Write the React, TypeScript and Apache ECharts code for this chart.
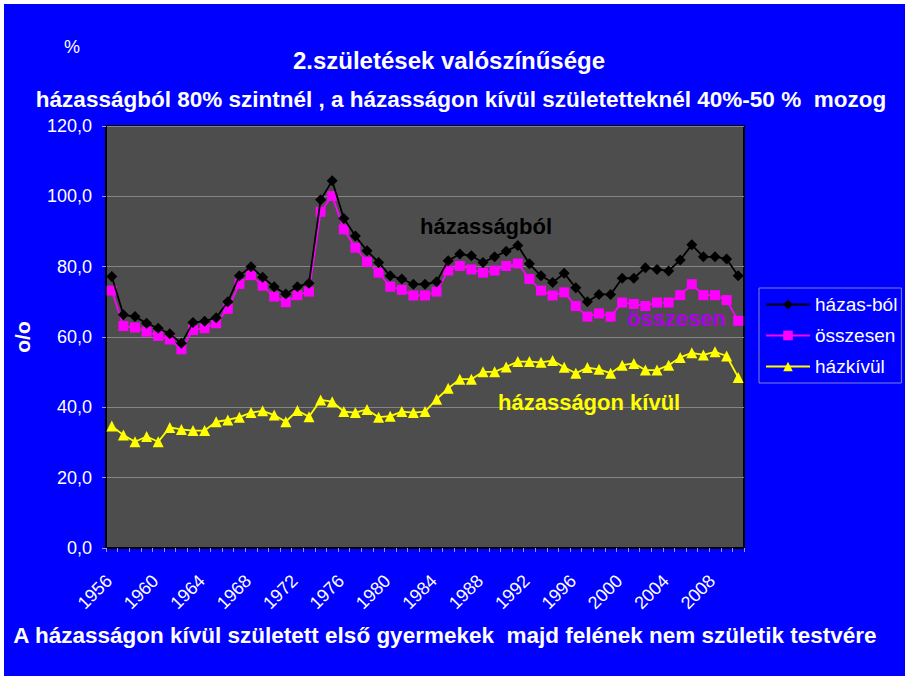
import React, { useEffect, useRef } from "react";
import * as echarts from "echarts";

const years = [
  "1956","1957","1958","1959","1960","1961","1962","1963","1964","1965",
  "1966","1967","1968","1969","1970","1971","1972","1973","1974","1975",
  "1976","1977","1978","1979","1980","1981","1982","1983","1984","1985",
  "1986","1987","1988","1989","1990","1991","1992","1993","1994","1995",
  "1996","1997","1998","1999","2000","2001","2002","2003","2004","2005",
  "2006","2007","2008","2009","2010",
];

const hazasBol = [
  77.2, 66.3, 65.8, 63.9, 62.5, 60.9, 58.2, 64.1, 64.5, 65.5,
  70.0, 77.4, 80.0, 77.0, 74.3, 72.2, 74.3, 75.3, 99.0, 104.4,
  93.7, 88.7, 84.5, 81.2, 77.4, 76.5, 75.0, 75.0, 75.7, 81.7,
  83.6, 83.1, 81.2, 82.8, 84.4, 86.0, 80.8, 77.4, 75.5, 78.1,
  74.0, 70.0, 72.1, 72.1, 76.7, 76.7, 79.7, 79.2, 78.8, 81.9,
  86.2, 82.8, 82.8, 82.2, 77.4,
];

const osszesen = [
  73.2, 63.1, 62.7, 61.5, 60.3, 59.3, 56.5, 62.0, 62.5, 63.9,
  68.0, 75.1, 77.6, 74.6, 71.5, 69.9, 71.9, 72.9, 95.6, 100.1,
  90.6, 85.4, 81.4, 78.3, 74.3, 73.4, 71.8, 71.8, 72.9, 78.9,
  80.2, 79.2, 78.3, 78.9, 80.2, 80.9, 76.5, 73.2, 71.8, 72.7,
  68.8, 65.8, 66.7, 65.8, 69.8, 69.4, 68.8, 69.8, 69.8, 71.9,
  75.0, 71.9, 71.9, 70.5, 64.6,
];

const hazKivul = [
  34.7, 32.1, 30.2, 31.7, 30.2, 34.3, 33.7, 33.4, 33.4, 35.9,
  36.4, 37.2, 38.5, 39.0, 37.8, 35.9, 39.1, 37.3, 42.1, 41.6,
  38.8, 38.5, 39.4, 37.2, 37.5, 38.8, 38.5, 38.8, 42.3, 45.4,
  48.0, 48.0, 50.1, 50.1, 51.5, 53.0, 53.0, 52.8, 53.3, 51.4,
  49.7, 51.3, 50.8, 49.7, 52.0, 52.5, 50.6, 50.6, 52.0, 54.2,
  55.5, 54.9, 55.8, 54.6, 48.5,
];

const seriesNames = ["házas-ból", "összesen", "házkívül"];

const FONT = "'Liberation Sans', Arial, sans-serif";

export default function App() {
  const ref = useRef<HTMLDivElement>(null);

  useEffect(() => {
    if (!ref.current) return;
    const chart = echarts.init(ref.current, null, { renderer: "svg" });
    chart.setOption({
      animation: false,
      backgroundColor: "#0000ff",
      textStyle: { fontFamily: FONT },
      grid: {
        left: 106,
        top: 126,
        right: 161,
        bottom: 128,
        show: true,
        backgroundColor: "#4d4d4d",
        borderColor: "#000000",
        borderWidth: 2,
      },
      legend: {
        orient: "vertical",
        left: 759,
        top: 288,
        itemWidth: 44,
        itemHeight: 12,
        itemGap: 12,
        padding: [7, 4, 7, 6],
        borderColor: "#8080d0",
        borderWidth: 1,
        textStyle: { color: "#ffffff", fontSize: 19, fontFamily: FONT },
        data: seriesNames,
      },
      xAxis: {
        type: "category",
        data: years,
        boundaryGap: true,
        axisLine: { show: true, lineStyle: { color: "#000000", width: 2 } },
        axisTick: {
          show: true,
          interval: 0,
          length: 4,
          lineStyle: { color: "#9a9ae8" },
        },
        axisLabel: {
          interval: 3,
          rotate: 45,
          margin: 27,
          color: "#ffffff",
          fontSize: 18,
          fontFamily: FONT,
          padding: [0, 4, 0, 0],
        },
        splitLine: { show: false },
      },
      yAxis: {
        type: "value",
        min: 0,
        max: 120,
        interval: 20,
        axisLine: { show: true, lineStyle: { color: "#000000", width: 2 } },
        axisTick: { show: true, length: 4, lineStyle: { color: "#9a9ae8" } },
        axisLabel: {
          color: "#ffffff",
          fontSize: 18,
          fontFamily: FONT,
          margin: 14,
          formatter: (v: number) => v.toFixed(1).replace(".", ","),
        },
        splitLine: { show: true, lineStyle: { color: "#858585", width: 1 } },
      },
      series: [
        {
          name: seriesNames[0],
          type: "line",
          data: hazasBol,
          symbol: "diamond",
          symbolSize: 11,
          showAllSymbol: true,
          itemStyle: { color: "#000000" },
          lineStyle: { color: "#000000", width: 1.8 },
          z: 4,
        },
        {
          name: seriesNames[1],
          type: "line",
          data: osszesen,
          symbol: "rect",
          symbolSize: 10,
          showAllSymbol: true,
          itemStyle: { color: "#ff00ff" },
          lineStyle: { color: "#ff00ff", width: 1.8 },
          z: 3,
        },
        {
          name: seriesNames[2],
          type: "line",
          data: hazKivul,
          symbol: "triangle",
          symbolSize: 11,
          showAllSymbol: true,
          itemStyle: { color: "#ffff00" },
          lineStyle: { color: "#ffff00", width: 1.8 },
          z: 3,
        },
      ],
      graphic: [
        {
          type: "rect",
          left: 0,
          top: 0,
          shape: { width: 905, height: 4 },
          style: { fill: "#ffffff" },
          silent: true,
        },
        {
          type: "rect",
          left: 0,
          top: 0,
          shape: { width: 4, height: 676 },
          style: { fill: "#ffffff" },
          silent: true,
        },
        {
          type: "text",
          x: 72,
          y: 47,
          style: {
            text: "%",
            fill: "#ffffff",
            font: `18px ${FONT}`,
            textAlign: "center",
            textVerticalAlign: "middle",
          },
        },
        {
          type: "text",
          x: 449,
          y: 60,
          style: {
            text: "2.születések valószínűsége",
            fill: "#ffffff",
            font: `bold 24px ${FONT}`,
            textAlign: "center",
            textVerticalAlign: "middle",
          },
        },
        {
          type: "text",
          x: 461,
          y: 99,
          style: {
            text: "házasságból 80% szintnél , a házasságon kívül születetteknél 40%-50 %  mozog",
            fill: "#ffffff",
            font: `bold 22.5px ${FONT}`,
            textAlign: "center",
            textVerticalAlign: "middle",
          },
        },
        {
          type: "text",
          x: 445,
          y: 635,
          style: {
            text: "A házasságon kívül született első gyermekek  majd felének nem születik testvére",
            fill: "#ffffff",
            font: `bold 22.5px ${FONT}`,
            textAlign: "center",
            textVerticalAlign: "middle",
          },
        },
        {
          type: "text",
          x: 22,
          y: 337,
          rotation: Math.PI / 2,
          style: {
            text: "o/o",
            fill: "#ffffff",
            font: `bold 21px ${FONT}`,
            textAlign: "center",
            textVerticalAlign: "middle",
          },
        },
        {
          type: "text",
          x: 420,
          y: 226,
          z: 10,
          style: {
            text: "házasságból",
            fill: "#000000",
            font: `bold 22px ${FONT}`,
            textAlign: "left",
            textVerticalAlign: "middle",
          },
        },
        {
          type: "text",
          x: 627,
          y: 318,
          z: 10,
          style: {
            text: "összesen",
            fill: "#b000e8",
            font: `bold 22px ${FONT}`,
            textAlign: "left",
            textVerticalAlign: "middle",
            textShadowColor: "#202020",
            textShadowOffsetX: 1,
            textShadowOffsetY: 1,
            textShadowBlur: 0,
          },
        },
        {
          type: "text",
          x: 498,
          y: 402,
          z: 10,
          style: {
            text: "házasságon kívül",
            fill: "#ffff00",
            font: `bold 22px ${FONT}`,
            textAlign: "left",
            textVerticalAlign: "middle",
          },
        },
      ],
    });
    return () => chart.dispose();
  }, []);

  return (
    <div
      ref={ref}
      style={{ position: "fixed", left: 0, top: 0, width: 905, height: 676 }}
    />
  );
}
